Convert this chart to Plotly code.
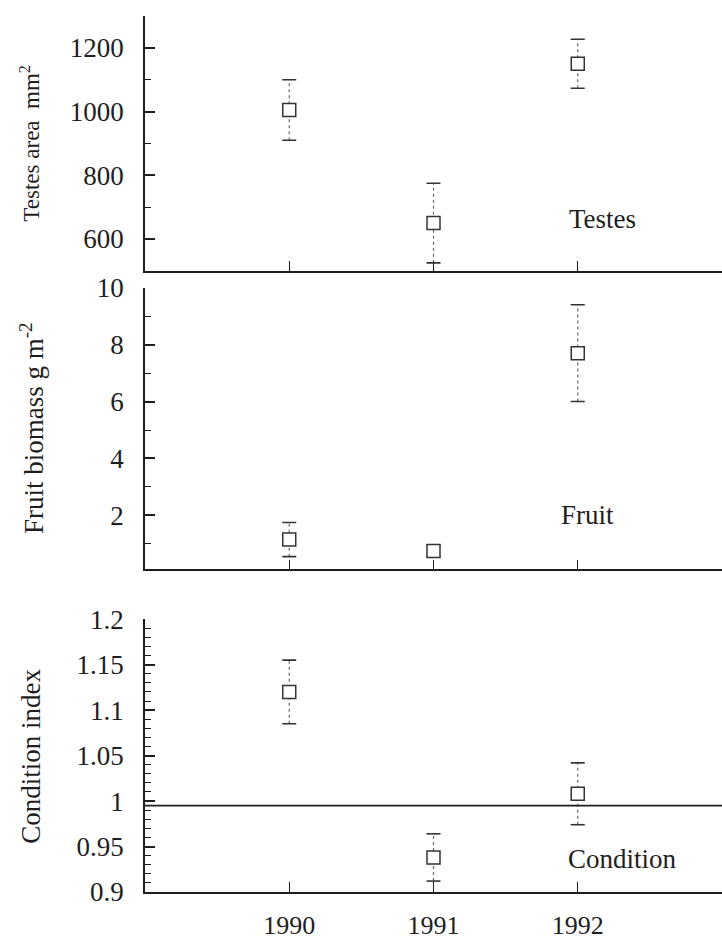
import plotly.graph_objects as go

# Survey years and yearly means with their error-bar half-widths
years = [1990, 1991, 1992]
year_labels = ["1990", "1991", "1992"]

testes_mean = [1005, 650, 1150]
testes_err = [95, 125, 77]

fruit_mean = [1.15, 0.75, 7.7]
fruit_err = [0.6, 0.2, 1.7]

cond_mean = [1.12, 0.938, 1.008]
cond_err = [0.035, 0.026, 0.034]
cond_ref = 0.995

testes_ticks = [600, 800, 1000, 1200]
fruit_ticks = [2, 4, 6, 8, 10]
cond_ticks = [0.9, 0.95, 1.0, 1.05, 1.1, 1.15, 1.2]
cond_ticktext = ["0.9", "0.95", "1", "1.05", "1.1", "1.15", "1.2"]

FONT = "Liberation Serif, Times New Roman, serif"
INK = "#1e1e1e"

panels = [
    dict(ax="", mean=testes_mean, err=testes_err, domain=[0.7091, 1.0],
         yrange=[500, 1300], ticks=testes_ticks, ticktext=[str(t) for t in testes_ticks],
         minor=100, label="Testes", label_xy=(1992.17, 662),
         title="Testes area  mm<sup>2</sup>", title_y=0.8545, title_x=-0.199, title_size=23),
    dict(ax="2", mean=fruit_mean, err=fruit_err, domain=[0.3682, 0.6898],
         yrange=[0.1, 10], ticks=fruit_ticks, ticktext=[str(t) for t in fruit_ticks],
         minor=1, label="Fruit", label_xy=(1992.07, 2.03),
         title="Fruit biomass g m<sup>-2</sup>", title_y=0.5295, title_x=-0.196, title_size=27),
    dict(ax="3", mean=cond_mean, err=cond_err, domain=[0.0, 0.3114],
         yrange=[0.9, 1.2], ticks=cond_ticks, ticktext=cond_ticktext,
         minor=0.01, label="Condition", label_xy=(1992.31, 0.936),
         title="Condition index", title_y=0.1545, title_x=-0.199, title_size=27),
]

fig = go.Figure()
annotations = []
shapes = []

for p in panels:
    xa, ya = "x" + p["ax"], "y" + p["ax"]
    lo = [m - e for m, e in zip(p["mean"], p["err"])]
    hi = [m + e for m, e in zip(p["mean"], p["err"])]

    # dotted whiskers
    wx, wy = [], []
    for x, a, b in zip(years, lo, hi):
        wx += [x, x, None]
        wy += [a, b, None]
    fig.add_trace(go.Scatter(x=wx, y=wy, mode="lines", xaxis=xa, yaxis=ya,
                             line=dict(color="#6a6a6a", width=1.2, dash="dot"),
                             hoverinfo="skip", showlegend=False))
    # whisker caps
    fig.add_trace(go.Scatter(x=years + years, y=lo + hi, mode="markers", xaxis=xa, yaxis=ya,
                             marker=dict(symbol="line-ew", size=10,
                                         line=dict(color="#333333", width=1.6)),
                             hoverinfo="skip", showlegend=False))
    # open square means
    fig.add_trace(go.Scatter(x=years, y=p["mean"], mode="markers", xaxis=xa, yaxis=ya,
                             marker=dict(symbol="square", size=13, color="white",
                                         line=dict(color="#333333", width=1.5)),
                             showlegend=False))

    annotations.append(dict(x=p["label_xy"][0], y=p["label_xy"][1], xref=xa, yref=ya,
                            text=p["label"], showarrow=False,
                            font=dict(family=FONT, size=27, color=INK)))
    annotations.append(dict(x=p["title_x"], y=p["title_y"], xref="paper", yref="paper",
                            text=p["title"], textangle=-90, showarrow=False,
                            xanchor="center", yanchor="middle",
                            font=dict(family=FONT, size=p["title_size"], color=INK)))

    last = p["ax"] == "3"
    fig.update_layout(**{
        ("xaxis" + p["ax"]): dict(
            domain=[0, 1], range=[1989, 1993], anchor=ya,
            showgrid=False, zeroline=False,
            showline=True, linecolor=INK, linewidth=1.6,
            tickmode="array", tickvals=years, ticktext=year_labels,
            showticklabels=last, ticks="inside", ticklen=10, tickwidth=1.3, tickcolor=INK,
            ticklabelstandoff=9,
            tickfont=dict(family=FONT, size=26, color=INK),
        ),
        ("yaxis" + p["ax"]): dict(
            domain=p["domain"], range=p["yrange"], anchor=xa,
            showgrid=False, zeroline=False,
            showline=True, linecolor=INK, linewidth=1.6,
            tickmode="array", tickvals=p["ticks"], ticktext=p["ticktext"],
            ticks="inside", ticklen=10, tickwidth=1.5, tickcolor=INK,
            minor=dict(ticks="inside", ticklen=6, tickwidth=1.2, tickcolor=INK,
                       dtick=p["minor"], showgrid=False),
            ticklabelstandoff=14,
            tickfont=dict(family=FONT, size=27, color=INK),
        ),
    })

# reference level for the condition index
shapes.append(dict(type="line", xref="x3 domain", yref="y3", x0=0, x1=1,
                   y0=cond_ref, y1=cond_ref, line=dict(color=INK, width=1.6)))

fig.update_layout(
    width=722, height=940,
    margin=dict(l=145, r=0, t=16, b=44),
    paper_bgcolor="white", plot_bgcolor="white",
    annotations=annotations, shapes=shapes,
    showlegend=False,
)

fig.write_html("out.html")
